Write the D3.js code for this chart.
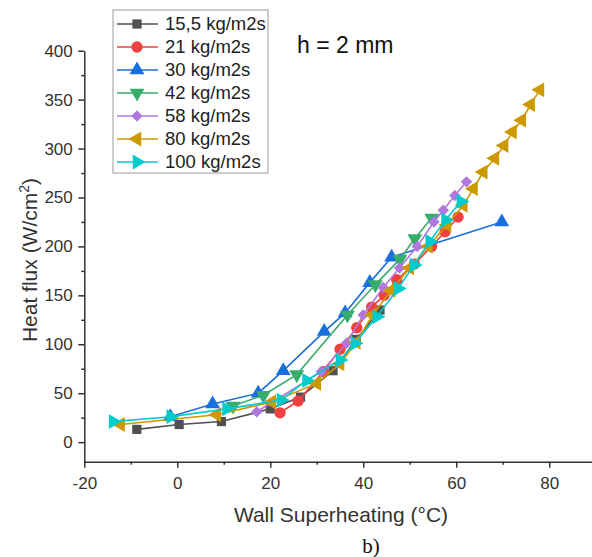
<!DOCTYPE html>
<html>
<head>
<meta charset="utf-8">
<script src="https://cdn.jsdelivr.net/npm/d3@7"></script>
<style>
  body { margin: 0; background: #fff; }
  svg { display: block; font-family: "Liberation Sans", Arial, sans-serif; }
</style>
</head>
<body>
<svg id="chart" width="592" height="557"></svg>
<script>
// series labels
const labels = ["15,5 kg/m2s", "21 kg/m2s", "30 kg/m2s", "42 kg/m2s", "58 kg/m2s", "80 kg/m2s", "100 kg/m2s"];

// wall superheating (°C) / heat flux (W/cm2) for every mass flux
const x155 = [-8.7, 0.4, 9.5, 20, 26.5, 33.5, 38.5, 43.6];
const y155 = [13, 18, 21, 34, 46, 73, 105, 135];

const x21 = [22.1, 26, 31.4, 35, 38.6, 41.8, 44.5, 47.2, 51, 54.7, 57.6, 60.4];
const y21 = [30, 42, 72, 95, 117, 138, 150, 166, 182, 200, 215, 230];

const x30 = [-1.5, 7.6, 17.4, 22.8, 31.6, 36.1, 41.4, 46.1, 69.8];
const y30 = [26, 39, 50, 73, 113, 132, 163, 189, 225];

const x42 = [12, 18.5, 25.7, 36.6, 42.6, 47.9, 51.1, 54.7];
const y42 = [37, 48, 69, 130, 161, 187, 208, 229];

const x58 = [17.1, 31, 36.4, 40, 44.3, 47.8, 51.6, 55.2, 57.2, 59.7, 62.2];
const y58 = [31, 72, 101, 130, 158, 178, 200, 225, 237, 252, 266];

const x80 = [-12.2, 8.5, 20.3, 30, 35, 38.5, 42, 46, 50, 54, 58, 61.5, 63.7, 65.8, 68.3, 70.3, 72.1, 74.1, 76, 78];
const y80 = [18, 28, 41, 60, 80, 102, 130, 155, 178, 200, 222, 242, 259, 276, 290, 303, 317, 329, 345, 360];

const x100 = [-13.8, -1.4, 10.6, 22.3, 27.8, 35, 38.2, 42.9, 47.5, 50.9, 54.3, 57.7, 61];
const y100 = [21, 26, 34, 43, 63, 84, 101, 128, 157, 181, 205, 227, 246];

// axis ticks
const xTicks = [-20, 0, 20, 40, 60, 80];
const xMinor = [-10, 10, 30, 50, 70];
const yTicks = [0, 50, 100, 150, 200, 250, 300, 350, 400];
const yMinor = [25, 75, 125, 175, 225, 275, 325, 375];

// 颜色 / 符号
const colors = ["#515151", "#F14040", "#1A6FDF", "#37AD6B", "#B177DE", "#CC9900", "#00CBCC"];
const symbols = [
    { type: d3.symbolSquare, size: 85, rot: 0 },
    { type: d3.symbolCircle, size: 100, rot: 0 },
    { type: d3.symbolTriangle, size: 95, rot: 0 },
    { type: d3.symbolTriangle, size: 95, rot: 180 },
    { type: d3.symbolSquare, size: 65, rot: 45 },
    { type: d3.symbolTriangle, size: 95, rot: -90 },
    { type: d3.symbolTriangle, size: 95, rot: 90 }
];

const seriesX = [x155, x21, x30, x42, x58, x80, x100];
const seriesY = [y155, y21, y30, y42, y58, y80, y100];

const svg = d3.select("#chart");

const x = d3.scaleLinear().domain([-20, 89.2]).range([84.3, 592]);
const y = d3.scaleLinear().domain([-20, 400]).range([461.7, 50.7]);

const axisColor = "#333";
const plain = d => String(d);

// x axis
const gx = svg.append("g").attr("transform", `translate(0,${y(-20)})`);
gx.call(d3.axisBottom(x).tickValues(xTicks).tickFormat(plain).tickSize(6).tickSizeOuter(0));
gx.append("g").call(d3.axisBottom(x).tickValues(xMinor).tickSize(3).tickFormat(""));
gx.selectAll(".domain").attr("stroke", axisColor).attr("stroke-width", 1.5);
gx.selectAll(".tick line").attr("stroke", axisColor).attr("stroke-width", 1.5);
gx.selectAll(".tick text").attr("fill", axisColor).attr("font-size", 17)
    .attr("font-family", "Liberation Sans, Arial, sans-serif").attr("dy", "1.05em");
gx.selectAll("g g .domain").remove();

// y axis
const gy = svg.append("g").attr("transform", `translate(${x(-20)},0)`);
gy.call(d3.axisLeft(y).tickValues(yTicks).tickFormat(plain).tickSize(6).tickSizeOuter(0));
gy.append("g").call(d3.axisLeft(y).tickValues(yMinor).tickSize(3).tickFormat(""));
gy.selectAll(".domain").attr("stroke", axisColor).attr("stroke-width", 1.5);
gy.selectAll(".tick line").attr("stroke", axisColor).attr("stroke-width", 1.5);
gy.selectAll(".tick text").attr("fill", axisColor).attr("font-size", 17)
    .attr("font-family", "Liberation Sans, Arial, sans-serif").attr("dx", "-0.15em");
gy.selectAll("g g .domain").remove();

// axis titles
svg.append("text")
    .attr("x", 341).attr("y", 522)
    .attr("text-anchor", "middle")
    .attr("font-size", 21)
    .attr("fill", axisColor)
    .text("Wall Superheating (°C)");

const yt = svg.append("text")
    .attr("transform", "translate(37,260) rotate(-90)")
    .attr("text-anchor", "middle")
    .attr("font-size", 21)
    .attr("fill", axisColor);
yt.append("tspan").text("Heat flux (W/cm");
yt.append("tspan").attr("font-size", 14).attr("dy", -8).text("2");
yt.append("tspan").attr("dy", 8).text(")");

svg.append("text")
    .attr("x", 297).attr("y", 53)
    .attr("font-size", 23)
    .attr("fill", "#111")
    .text("h = 2 mm");

svg.append("text")
    .attr("x", 371).attr("y", 553)
    .attr("text-anchor", "middle")
    .attr("font-size", 21)
    .attr("font-family", "Liberation Serif, Times New Roman, serif")
    .attr("fill", "#111")
    .text("b)");

// 折线 + 符号
const line = d3.line().x(d => x(d[0])).y(d => y(d[1]));

function symbolPath(i) {
    return d3.symbol().type(symbols[i].type).size(symbols[i].size)();
}

seriesX.forEach((xs, i) => {
    const pts = xs.map((v, k) => [v, seriesY[i][k]]);
    const g = svg.append("g");
    g.append("path")
        .datum(pts)
        .attr("fill", "none")
        .attr("stroke", colors[i])
        .attr("stroke-width", 1.6)
        .attr("d", line);
    g.selectAll("path.pt")
        .data(pts)
        .enter().append("path")
        .attr("class", "pt")
        .attr("d", symbolPath(i))
        .attr("fill", colors[i])
        .attr("transform", d => `translate(${x(d[0])},${y(d[1])}) rotate(${symbols[i].rot})`);
});

// 图例
const legend = svg.append("g");
legend.append("rect")
    .attr("x", 113).attr("y", 10)
    .attr("width", 155).attr("height", 163)
    .attr("fill", "#fff")
    .attr("stroke", "#999")
    .attr("stroke-width", 1);

const item = legend.selectAll("g.item")
    .data(labels)
    .enter().append("g")
    .attr("class", "item")
    .attr("transform", (d, i) => `translate(0,${24 + i * 23})`);

item.append("line")
    .attr("x1", 117).attr("x2", 158)
    .attr("stroke", (d, i) => colors[i])
    .attr("stroke-width", 1.6);

item.append("path")
    .attr("d", (d, i) => symbolPath(i))
    .attr("fill", (d, i) => colors[i])
    .attr("transform", (d, i) => `translate(137,0) rotate(${symbols[i].rot})`);

item.append("text")
    .attr("x", 165)
    .attr("dy", "0.35em")
    .attr("font-size", 18.5)
    .attr("fill", "#222")
    .text(d => d);
</script>
</body>
</html>
